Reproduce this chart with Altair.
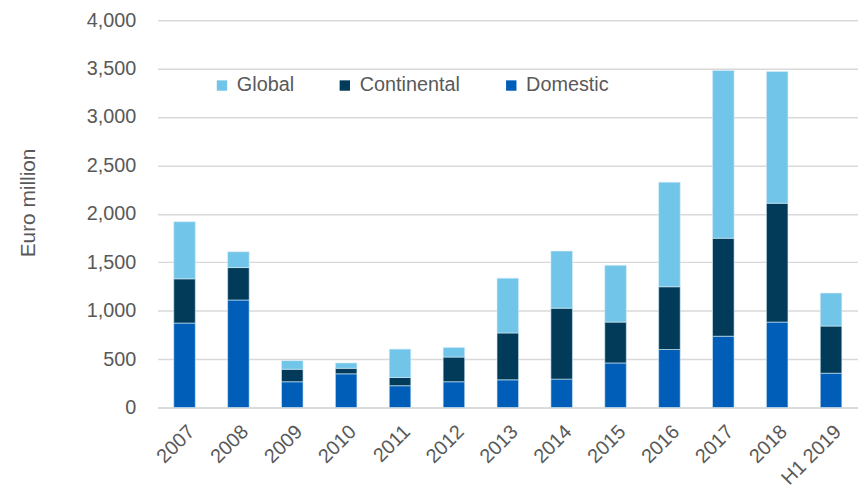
import altair as alt
import pandas as pd

years = ["2007", "2008", "2009", "2010", "2011", "2012", "2013", "2014",
         "2015", "2016", "2017", "2018", "H1 2019"]
domestic = [872, 1110, 266, 348, 225, 266, 286, 293, 460, 599, 736, 882, 354]
continental = [457, 335, 129, 57, 85, 255, 484, 733, 422, 648, 1012, 1227, 487]
global_ = [589, 163, 89, 55, 293, 99, 566, 589, 586, 1080, 1732, 1360, 341]

series = ["Global", "Continental", "Domestic"]
colors = ["#71C5E8", "#023B59", "#005EB8"]
stack_rank = {"Domestic": 0, "Continental": 1, "Global": 2}

rows = []
for i, y in enumerate(years):
    for name, vals in (("Domestic", domestic), ("Continental", continental), ("Global", global_)):
        rows.append({"year": y, "type": name, "value": vals[i], "rank": stack_rank[name]})
df = pd.DataFrame(rows)

FONT = "Liberation Sans"
GREY = "#595959"
FS = 20

chart = alt.Chart(df).mark_bar(stroke="#d6ecf8", strokeWidth=0.6).encode(
    x=alt.X("year:N", sort=years,
            scale=alt.Scale(paddingInner=0.6, paddingOuter=0.3),
            axis=alt.Axis(title=None, labelAngle=-45, labelAlign="right",
                          labelBaseline="top", labelPadding=14, ticks=False,
                          domainColor="#D9D9D9", domainWidth=1.5,
                          labelFont=FONT, labelFontSize=FS, labelColor=GREY)),
    y=alt.Y("value:Q", stack="zero",
            scale=alt.Scale(domain=[0, 4000], nice=False),
            axis=alt.Axis(title="Euro million", values=list(range(0, 4001, 500)),
                          format=",.0f", ticks=False, domain=False,
                          gridColor="#D9D9D9", gridWidth=1.5,
                          labelPadding=22, labelFont=FONT, labelFontSize=FS,
                          labelColor=GREY, titleFont=FONT, titleFontSize=21,
                          titleFontWeight="normal", titleColor=GREY,
                          titleX=-130, titleY=184, titleAlign="center",
                          titleBaseline="middle")),
    color=alt.Color("type:N", scale=alt.Scale(domain=series, range=colors),
                    legend=alt.Legend(title=None, orient="none", direction="horizontal",
                                      legendX=55, legendY=56, symbolType="square",
                                      symbolSize=110, symbolStrokeWidth=0,
                                      labelFont=FONT, labelFontSize=FS,
                                      labelColor=GREY, labelOffset=5,
                                      columnPadding=41)),
    order=alt.Order("rank:Q", sort="ascending"),
).properties(
    width=707, height=391,
    autosize=alt.AutoSizeParams(type="none"),
    padding={"left": 151, "top": 10, "right": 0, "bottom": 80},
).configure_view(stroke=None)

chart.save("out.html", embed_options={"renderer": "svg", "actions": False})
